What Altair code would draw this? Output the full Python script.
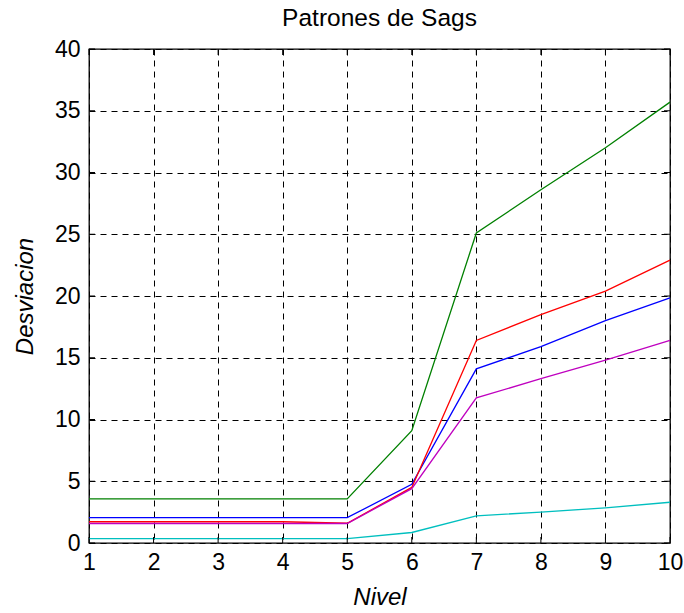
import altair as alt
import pandas as pd

nivel = [1, 2, 3, 4, 5, 6, 7, 8, 9, 10]
azul = [2.05, 2.05, 2.05, 2.05, 2.05, 4.75, 14.1, 15.9, 18.0, 19.85]
verde = [3.57, 3.57, 3.57, 3.57, 3.57, 9.1, 25.1, 28.6, 32.0, 35.7]
rojo = [1.72, 1.72, 1.72, 1.72, 1.6, 4.5, 16.4, 18.5, 20.4, 22.9]
cian = [0.36, 0.36, 0.36, 0.36, 0.36, 0.85, 2.2, 2.5, 2.85, 3.3]
magenta = [1.58, 1.58, 1.58, 1.58, 1.58, 4.4, 11.75, 13.3, 14.8, 16.4]

series = [
    ("azul", azul, "#0000ff"),
    ("verde", verde, "#008000"),
    ("rojo", rojo, "#ff0000"),
    ("cian", cian, "#00bfbf"),
    ("magenta", magenta, "#bf00bf"),
]

x_ticks = list(range(1, 11))
y_ticks = list(range(0, 41, 5))
titulo = ["Patrones de Sags"]

W, H = 581, 494
FONT = "Liberation Sans"

xs = alt.Scale(domain=[1, 10], nice=False, zero=False)
ys = alt.Scale(domain=[0, 40], nice=False, zero=False)

layers = []
for i, (name, vals, col) in enumerate(series):
    df = pd.DataFrame({"Nivel": nivel, "Desviacion": vals})
    enc_x = alt.X("Nivel:Q", scale=xs)
    enc_y = alt.Y("Desviacion:Q", scale=ys)
    if i == 0:
        enc_x = alt.X(
            "Nivel:Q", scale=xs,
            axis=alt.Axis(
                values=x_ticks, format="d", title="Nivel", grid=True, gridColor="#000000",
                gridDash=[6, 5], gridOpacity=1, gridWidth=1, ticks=False,
                domain=False, labelFont=FONT, labelFontSize=23, labelColor="#000000",
                labelPadding=8, titleFont=FONT, titleFontSize=24, titleFontStyle="italic",
                titleFontWeight="normal", titleColor="#000000", titleX=W / 2,
                titleY=61, titleBaseline="alphabetic", labelFlush=False,
            ),
        )
        enc_y = alt.Y(
            "Desviacion:Q", scale=ys,
            axis=alt.Axis(
                values=y_ticks, format="d", title="Desviacion", grid=True, gridColor="#000000",
                gridDash=[6, 5], gridOpacity=1, gridWidth=1, ticks=False,
                domain=False, labelFont=FONT, labelFontSize=23, labelColor="#000000",
                labelPadding=9, titleFont=FONT, titleFontSize=24, titleFontStyle="italic",
                titleFontWeight="normal", titleColor="#000000", titleX=-57,
                titleY=H / 2, titleBaseline="alphabetic", titleAngle=270, labelFlush=False,
            ),
        )
    layers.append(
        alt.Chart(df).mark_line(color=col, strokeWidth=1.3).encode(x=enc_x, y=enc_y)
    )

xt = pd.DataFrame({"Nivel": x_ticks})
yt = pd.DataFrame({"Desviacion": y_ticks})
tick_style = dict(color="#000000", strokeWidth=1)
ticks = [
    alt.Chart(xt).mark_rule(**tick_style).encode(
        x=alt.X("Nivel:Q", scale=xs), y=alt.value(0), y2=alt.value(6)),
    alt.Chart(xt).mark_rule(**tick_style).encode(
        x=alt.X("Nivel:Q", scale=xs), y=alt.value(H), y2=alt.value(H - 6)),
    alt.Chart(yt).mark_rule(**tick_style).encode(
        y=alt.Y("Desviacion:Q", scale=ys), x=alt.value(0), x2=alt.value(6)),
    alt.Chart(yt).mark_rule(**tick_style).encode(
        y=alt.Y("Desviacion:Q", scale=ys), x=alt.value(W), x2=alt.value(W - 6)),
]

title_layer = alt.Chart(pd.DataFrame({"t": titulo})).mark_text(
    font=FONT, fontSize=24.5, color="#000000", align="center", baseline="alphabetic"
).encode(text="t:N", x=alt.value(W / 2), y=alt.value(-23))

chart = alt.layer(*layers, *ticks, title_layer).properties(
    width=W,
    height=H,
    autosize=alt.AutoSizeParams(type="none"),
    padding={"left": 89, "top": 49, "right": 14, "bottom": 70},
    background="#ffffff",
).configure_view(stroke="#000000", strokeWidth=1.3)

chart.save("out.html", embed_options={"renderer": "svg", "actions": False})
